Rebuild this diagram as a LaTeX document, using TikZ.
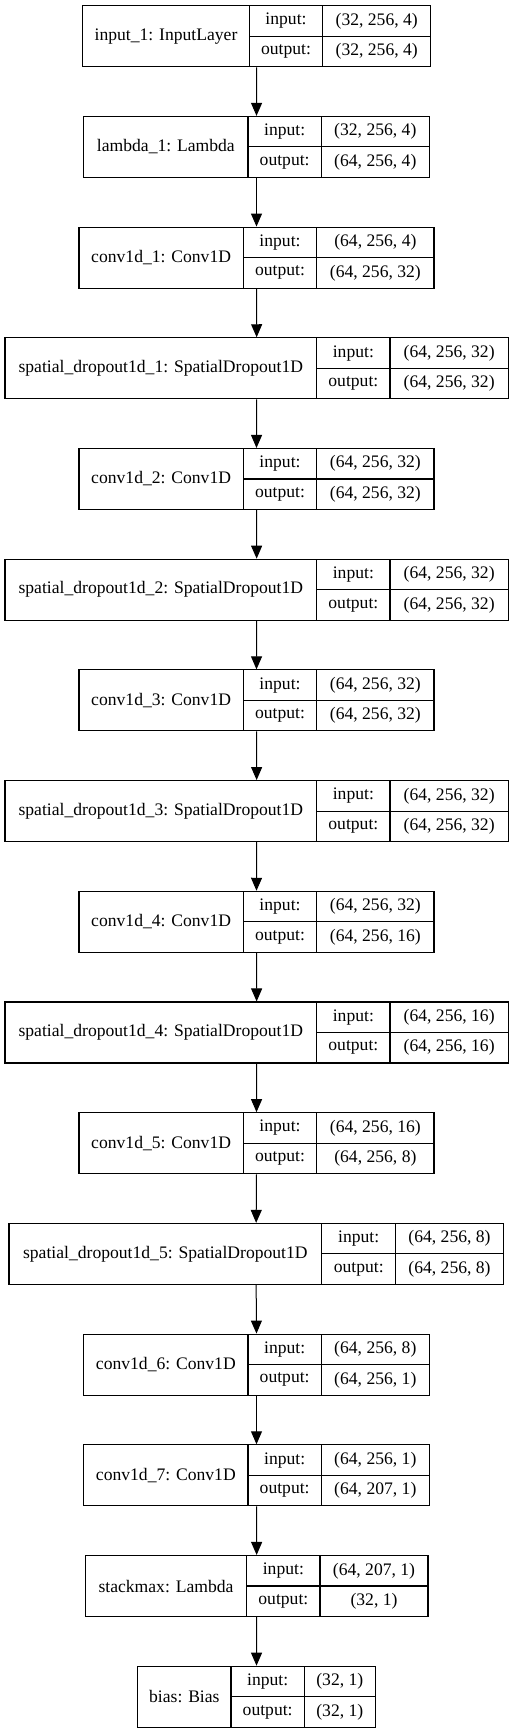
\documentclass[tikz,border=0pt]{standalone}
\usepackage{fontspec}
\setmainfont{Liberation Serif}
\usetikzlibrary{arrows.meta}
\tikzset{
    rec/.style = {draw, rectangle, minimum height=61pt, inner sep=0pt, line width=1.1pt},
    cell/.style = {inner sep=0pt, font=\fontsize{17.6}{20}\selectfont},
    divider/.style = {line width=1.1pt},
    arrow/.style = {-{Triangle[length=13pt, width=11pt]}, line width=1pt}
}
% #1 name, #2 row, #3 left, #4 first divider, #5 second divider, #6 right,
% #7 layer text, #8 input shape, #9 output shape
\newcommand{\layer}[9]{%
    \pgfmathsetmacro{\rowtop}{5.7+110.7*#2}
    \node[rec, minimum width={(#6)-(#3)}] (#1) at ({((#3)+(#6))/2}, \rowtop+30.5) {};
    \draw[divider] (#4, \rowtop) -- (#4, \rowtop+61);
    \draw[divider] (#5, \rowtop) -- (#5, \rowtop+61);
    \draw[divider] (#4, \rowtop+30.5) -- (#6, \rowtop+30.5);
    \node[cell] (#1-name) at ({((#3)+(#4))/2}, \rowtop+30.5) {#7};
    \node[cell] (#1-inl) at ({((#4)+(#5))/2}, \rowtop+15.25) {input:};
    \node[cell] (#1-outl) at ({((#4)+(#5))/2}, \rowtop+45.75) {output:};
    \node[cell] (#1-in) at ({((#5)+(#6))/2}, \rowtop+15.25) {#8};
    \node[cell] (#1-out) at ({((#5)+(#6))/2}, \rowtop+45.75) {#9};
}

\begin{document}
\begin{tikzpicture}[x=1pt, y=-1pt]

    \useasboundingbox (0, 0) rectangle (513, 1733);

    % Layers
    \layer{inp}{0}{82.7}{249.3}{322.7}{430.7}{input\_1: InputLayer}{(32, 256, 4)}{(32, 256, 4)}
    \layer{lam}{1}{83.7}{248}{321.3}{429.3}{lambda\_1: Lambda}{(32, 256, 4)}{(64, 256, 4)}
    \layer{convA}{2}{79}{243.3}{316.7}{434}{conv1d\_1: Conv1D}{(64, 256, 4)}{(64, 256, 32)}
    \layer{dropA}{3}{5}{316.7}{390}{508.3}{spatial\_dropout1d\_1: SpatialDropout1D}{(64, 256, 32)}{(64, 256, 32)}
    \layer{convB}{4}{79}{243.3}{316.7}{434}{conv1d\_2: Conv1D}{(64, 256, 32)}{(64, 256, 32)}
    \layer{dropB}{5}{5}{316.7}{390}{508.3}{spatial\_dropout1d\_2: SpatialDropout1D}{(64, 256, 32)}{(64, 256, 32)}
    \layer{convC}{6}{79}{243.3}{316.7}{434}{conv1d\_3: Conv1D}{(64, 256, 32)}{(64, 256, 32)}
    \layer{dropC}{7}{5}{316.7}{390}{508.3}{spatial\_dropout1d\_3: SpatialDropout1D}{(64, 256, 32)}{(64, 256, 32)}
    \layer{convD}{8}{79}{243.3}{316.7}{434}{conv1d\_4: Conv1D}{(64, 256, 32)}{(64, 256, 16)}
    \layer{dropD}{9}{5}{316.7}{390}{508.3}{spatial\_dropout1d\_4: SpatialDropout1D}{(64, 256, 16)}{(64, 256, 16)}
    \layer{convE}{10}{79}{243.3}{316.7}{434}{conv1d\_5: Conv1D}{(64, 256, 16)}{(64, 256, 8)}
    \layer{dropE}{11}{9}{321.7}{395.7}{503.3}{spatial\_dropout1d\_5: SpatialDropout1D}{(64, 256, 8)}{(64, 256, 8)}
    \layer{convF}{12}{83.7}{248}{321.3}{429.3}{conv1d\_6: Conv1D}{(64, 256, 8)}{(64, 256, 1)}
    \layer{convG}{13}{83.7}{248}{321.3}{429.3}{conv1d\_7: Conv1D}{(64, 256, 1)}{(64, 207, 1)}
    \layer{smax}{14}{85.3}{246.7}{320}{428}{stackmax: Lambda}{(64, 207, 1)}{(32, 1)}
    \layer{bias}{15}{137.7}{231}{304.3}{375.3}{bias: Bias}{(32, 1)}{(32, 1)}

    % Connections
    \foreach \a/\b in {inp/lam, lam/convA, convA/dropA, dropA/convB, convB/dropB,
        dropB/convC, convC/dropC, dropC/convD, convD/dropD, dropD/convE,
        convE/dropE, dropE/convF, convF/convG, convG/smax, smax/bias}
        \draw[arrow] (\a.south) -- (\b.north);

\end{tikzpicture}
\end{document}
